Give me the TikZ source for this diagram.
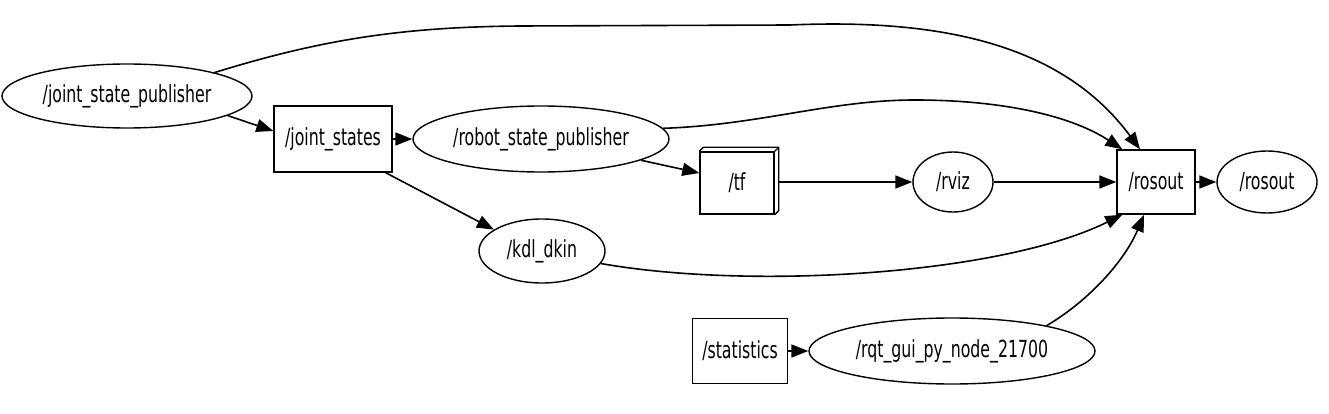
\documentclass[tikz,border=0pt]{standalone}
\usepackage{fontspec}
\setmainfont{DejaVu Sans Condensed}[FakeStretch=0.745]
\usetikzlibrary{shapes.geometric,arrows.meta,calc}
\tikzset{
  base/.style={draw=black, line width=1.4pt, inner sep=0pt, font=\fontsize{23.5}{26}\selectfont},
  topicbox/.style={base, rectangle},
  rosnode/.style={base, ellipse},
  edge/.style={line width=1.6pt, -{Triangle[length=17pt,width=13pt]}},
}
\begin{document}
\begin{tikzpicture}[x=1pt,y=-1pt]
\useasboundingbox (0,0) rectangle (1329,414);
% nodes
\node[rosnode, minimum width=250pt, minimum height=64pt] (jsp) at (127,96) {/joint\_state\_publisher};
\node[topicbox, minimum width=118pt, minimum height=66pt] (js) at (333,139) {/joint\_states};
\node[rosnode, minimum width=256pt, minimum height=66pt] (rsp) at (541,139) {/robot\_state\_publisher};
\node[topicbox, minimum width=74pt, minimum height=62pt] (tf) at (737,183) {/tf};
\node[rosnode, minimum width=80pt, minimum height=60pt] (rviz) at (953,182) {/rviz};
\node[topicbox, minimum width=78pt, minimum height=64pt] (rosoutb) at (1156,182) {/rosout};
\node[rosnode, minimum width=100pt, minimum height=62pt] (rosoute) at (1267,182) {/rosout};
\node[rosnode, minimum width=126pt, minimum height=64pt] (kdl) at (542,251) {/kdl\_dkin};
\node[topicbox, minimum width=95pt, minimum height=65pt] (stat) at (740,351) {/statistics};
\node[rosnode, minimum width=286pt, minimum height=66pt] (rqt) at (952,351) {/rqt\_gui\_py\_node\_21700};
% 3d faces of /tf
\draw[line width=1.3pt, line join=round] (tf.north west) -- ++(4,-4) -- ($(tf.north east)+(4,-4)$) -- ($(tf.south east)+(4,-4)$) -- (tf.south east);
\draw[line width=1.3pt] (tf.north east) -- ++(4,-4);
% edges
\draw[edge] (jsp.15) .. controls (320,40) and (400,27) .. (520,26) -- (790,25) .. controls (950,18) and (1065,48) .. ([xshift=-16pt]rosoutb.north);
\draw[edge] (jsp.-11) -- ([yshift=8pt]js.west);
\draw[edge] (js.east) -- (rsp.west);
\draw[edge] ([xshift=-7pt]js.south east) -- (kdl.156);
\draw[edge] (rsp.5) .. controls (760,125) and (830,100) .. (915,100) .. controls (1000,100) and (1070,115) .. ([xshift=6pt]rosoutb.north west);
\draw[edge] (rsp.-12) -- ([yshift=10pt]tf.west);
\draw[edge] ([xshift=3pt,yshift=1pt]tf.east) -- (rviz.west);
\draw[edge] (rviz.east) -- (rosoutb.west);
\draw[edge] (kdl.-12) .. controls (750,290) and (1000,275) .. ([xshift=6pt]rosoutb.south west);
\draw[edge] (rqt.15) .. controls (1090,300) and (1125,260) .. ([xshift=-12pt]rosoutb.south);
\draw[edge] (stat.east) -- (rqt.west);
\draw[edge] (rosoutb.east) -- (rosoute.west);
\end{tikzpicture}
\end{document}
